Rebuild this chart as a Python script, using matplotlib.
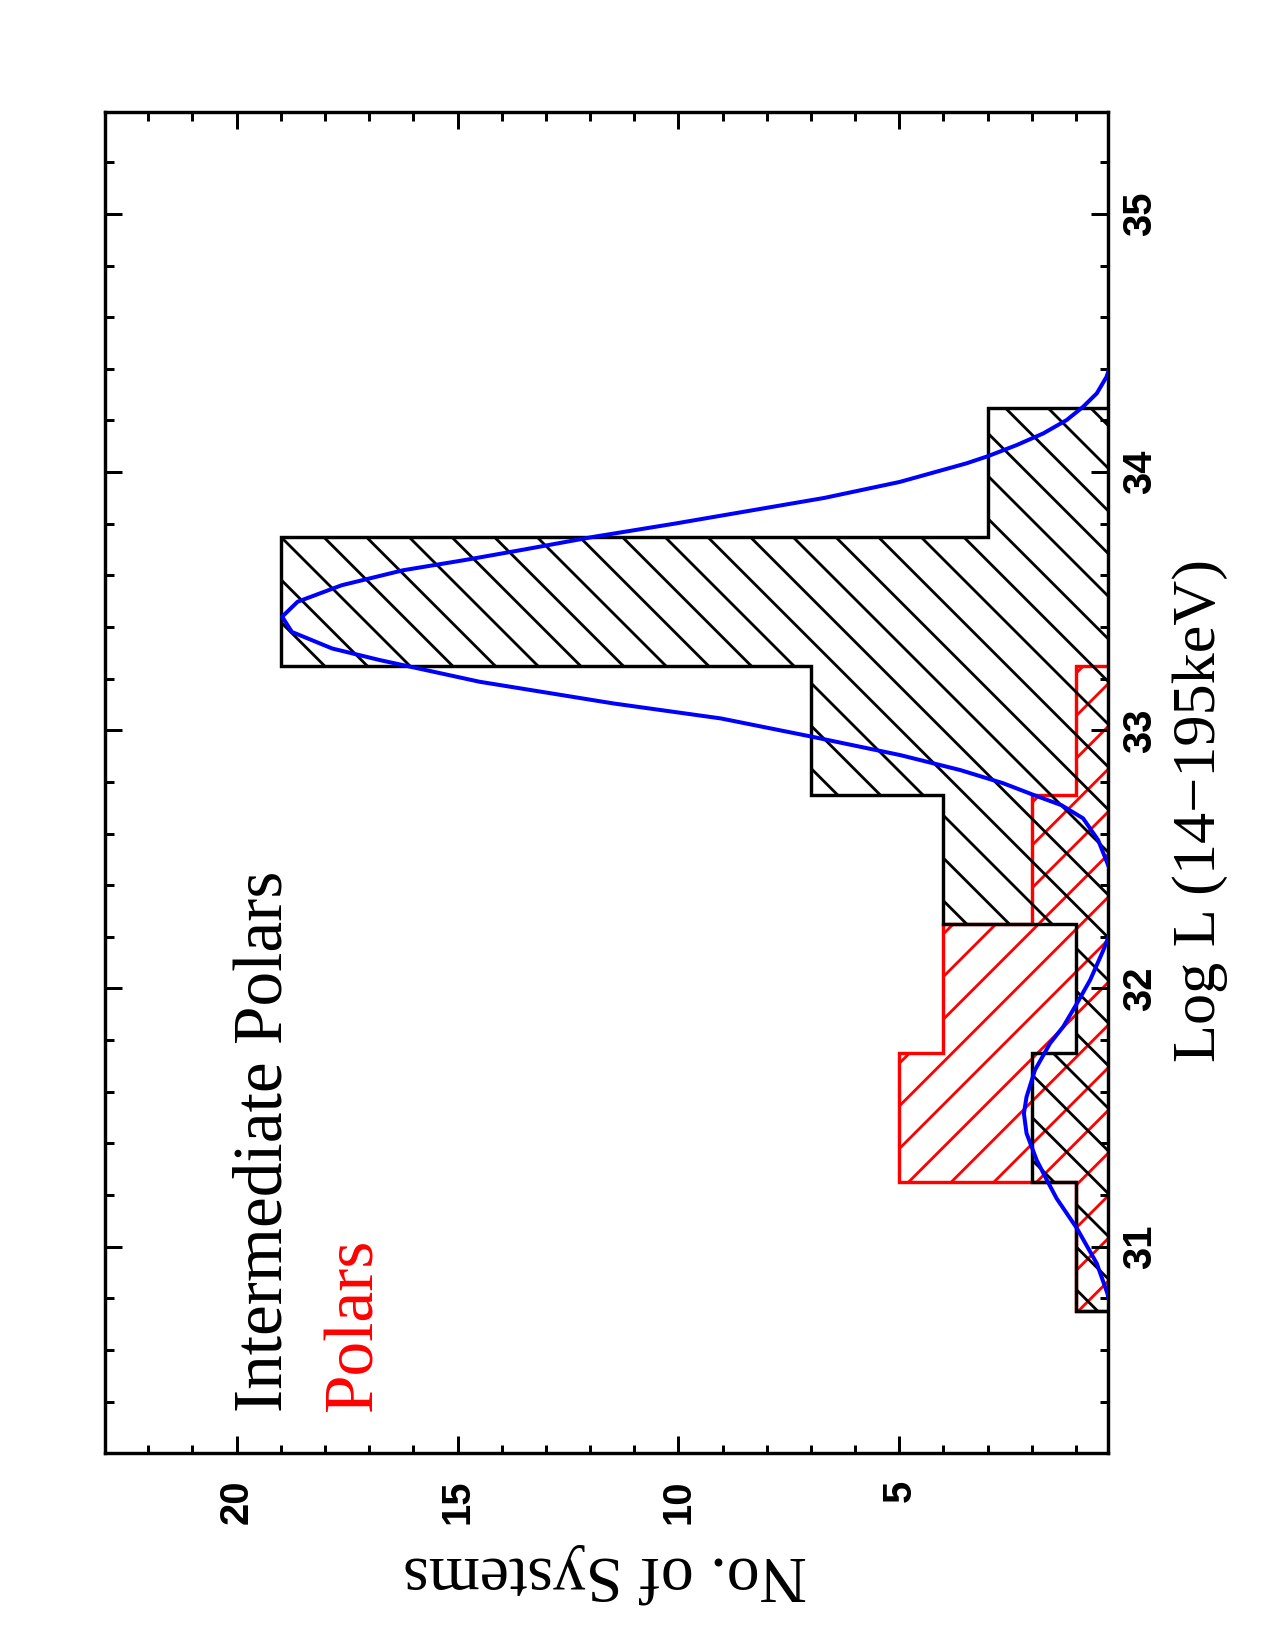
import matplotlib
matplotlib.use('Agg')
import matplotlib.pyplot as plt
from matplotlib.ticker import MultipleLocator

# ---------------- data ----------------
ip_edges = [30.75, 31.25, 31.75, 32.25, 32.75, 33.25, 33.75, 34.25]
ip_counts = [1, 2, 1, 4, 7, 19, 3]

polar_edges = [30.75, 31.25, 31.75, 32.25, 32.75, 33.25]
polar_counts = [1, 5, 4, 2, 1]

fit_logl = [30.50, 30.65, 30.75, 30.819, 30.935, 31.071, 31.187, 31.258, 31.335,
            31.439, 31.516, 31.580, 31.684, 31.787, 31.852, 31.942, 32.033, 32.149,
            32.22, 32.30, 32.38, 32.44, 32.485, 32.575, 32.659, 32.710, 32.749,
            32.795, 32.846, 32.904, 32.976, 33.046, 33.104, 33.188, 33.246, 33.272,
            33.317, 33.381, 33.440, 33.498, 33.562, 33.620, 33.659, 33.70, 33.75,
            33.80, 33.85, 33.90, 33.962, 34.034, 34.062, 34.105, 34.150, 34.202,
            34.253, 34.305, 34.369, 34.45, 34.60]
fit_n = [0.03, 0.10, 0.20, 0.29, 0.53, 0.98, 1.44, 1.66, 1.89,
         2.12, 2.18, 2.12, 1.93, 1.59, 1.29, 0.98, 0.68, 0.38,
         0.22, 0.12, 0.12, 0.19, 0.29, 0.50, 0.84, 1.33, 1.95,
         2.65, 3.62, 4.98, 7.00, 9.04, 11.47, 14.50, 16.06, 16.76,
         17.84, 18.75, 18.97, 18.62, 17.62, 16.23, 14.85, 13.5, 11.9,
         10.1, 8.4, 6.7, 4.99, 3.48, 2.99, 2.34, 1.74, 1.21,
         0.84, 0.53, 0.31, 0.15, 0.05]

count_ticks = [5, 10, 15, 20]
count_tick_labels = ['5', '10', '15', '20']
logl_ticks = [31, 32, 33, 34, 35]
logl_tick_labels = ['31', '32', '33', '34', '35']

count_range = (22.98, 0.283)
logl_range = (30.202, 35.396)

label_ip = 'Intermediate Polars'
label_polar = 'Polars'
xlabel_text = 'Log L (14\u2212195keV)'
ylabel_text = 'No. of Systems'

# ---------------- figure ----------------
DPI = 256
W, H = 1275, 1650


def pt(px):
    return px * 72.0 / DPI


plt.rcParams['hatch.linewidth'] = pt(2.8)

fig = plt.figure(figsize=(W / DPI, H / DPI), dpi=DPI)
ax_l, ax_r, ax_t, ax_b = 105.0, 1107.7, 111.7, 1452.7
ax = fig.add_axes([ax_l / W, 1 - ax_b / H, (ax_r - ax_l) / W, (ax_b - ax_t) / H])


def centers(edges):
    return [(a + b) / 2 for a, b in zip(edges[:-1], edges[1:])]


def widths(edges):
    return [b - a for a, b in zip(edges[:-1], edges[1:])]


# Polars (red)
ax.barh(centers(polar_edges), polar_counts, height=widths(polar_edges), left=0,
        facecolor='none', edgecolor='red', linewidth=0, hatch='//', zorder=1)
ax.stairs(polar_counts, polar_edges, orientation='horizontal', baseline=0,
          fill=False, color='red', linewidth=pt(3.4), zorder=2)

# Intermediate polars (black)
ax.barh(centers(ip_edges), ip_counts, height=widths(ip_edges), left=0,
        facecolor='none', edgecolor='black', linewidth=0, hatch='\\\\', zorder=2.5)
ax.stairs(ip_counts, ip_edges, orientation='horizontal', baseline=0,
          fill=False, color='black', linewidth=pt(3.4), zorder=3)

# fitted curve (blue)
ax.plot(fit_n, fit_logl, color='blue', linewidth=pt(4.0), zorder=4)

ax.set_xlim(*count_range)
ax.set_ylim(*logl_range)

for s in ax.spines.values():
    s.set_linewidth(pt(3.4))

tick_font = dict(family=['Liberation Sans', 'DejaVu Sans'], weight='bold', size=pt(40))
ax.set_xticks(count_ticks)
ax.set_xticklabels(count_tick_labels, fontdict=tick_font)
ax.xaxis.set_minor_locator(MultipleLocator(1))
ax.set_yticks(logl_ticks)
ax.set_yticklabels(logl_tick_labels, fontdict=tick_font)
ax.yaxis.set_minor_locator(MultipleLocator(0.2))

ax.tick_params(which='both', direction='in', top=True, bottom=True, left=True,
               right=True, width=pt(3.0), color='black')
ax.tick_params(which='major', length=pt(16.7))
ax.tick_params(which='minor', length=pt(8.5))
ax.tick_params(axis='x', labelbottom=True, labeltop=False, labelrotation=90, pad=pt(27))
ax.tick_params(axis='y', labelleft=False, labelright=True, labelrotation=90, pad=pt(13))
for t in ax.yaxis.get_major_ticks():
    t.label2.set_va('center')
    t.label2.set_ha('left')

serif = ['Liberation Serif', 'DejaVu Serif']
fig.text(282 / W, 1 - 1412 / H, label_ip, rotation=90, rotation_mode='anchor',
         ha='left', va='baseline', fontsize=19.5, family=serif, color='black')
fig.text(372 / W, 1 - 1412 / H, label_polar, rotation=90, rotation_mode='anchor',
         ha='left', va='baseline', fontsize=19.5, family=serif, color='red')
fig.text(1215 / W, 1 - 1062 / H, xlabel_text, rotation=90, rotation_mode='anchor',
         ha='left', va='baseline', fontsize=17.5, family=serif, color='black')
fig.text(605 / W, 1 - 1557 / H, ylabel_text, rotation=180, rotation_mode='anchor',
         ha='center', va='baseline', fontsize=18.5, family=serif, color='black')

fig.savefig('out.png', dpi=DPI)
